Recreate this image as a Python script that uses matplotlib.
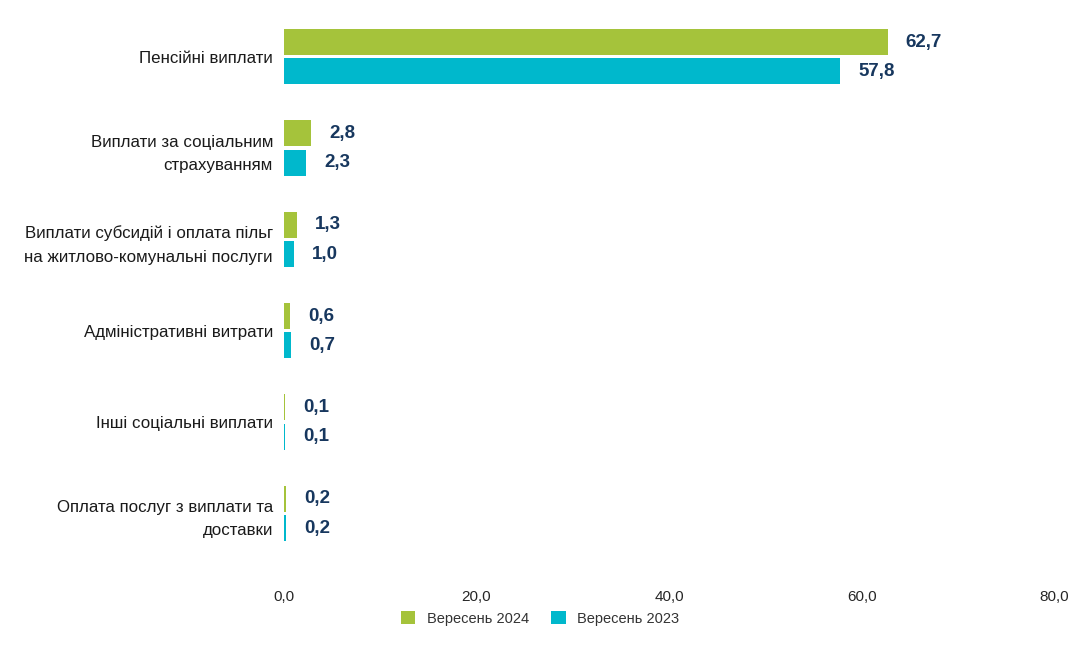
import matplotlib.pyplot as plt
import numpy as np

plt.rcParams['font.family'] = ['Liberation Sans', 'DejaVu Sans']

# дані
categories = ['Пенсійні виплати',
              'Виплати за соціальним\nстрахуванням',
              'Виплати субсидій і оплата пільг\nна житлово-комунальні послуги',
              'Адміністративні витрати',
              'Інші соціальні виплати',
              'Оплата послуг з виплати та\nдоставки']
sep_2024 = [62.7, 2.8, 1.3, 0.6, 0.1, 0.2]
sep_2023 = [57.8, 2.3, 1.0, 0.7, 0.1, 0.2]
ticks = [0, 20, 40, 60, 80]

green = '#A5C33B'
cyan = '#00B8CC'
navy = '#17375E'

fig = plt.figure(figsize=(10.8, 6.68), dpi=100)
ax = fig.add_axes([0.263, 0.163, 0.713, 0.8205])

y = np.arange(len(categories))
h = 0.285
off = 0.16
b1 = ax.barh(y - off, sep_2024, height=h, color=green, label='Вересень 2024')
b2 = ax.barh(y + off, sep_2023, height=h, color=cyan, label='Вересень 2023')

for bars, vals in ((b1, sep_2024), (b2, sep_2023)):
    for bar, v in zip(bars, vals):
        ax.annotate(f'{v:.1f}'.replace('.', ','),
                    (bar.get_width(), bar.get_y() + bar.get_height() / 2),
                    xytext=(18, 0), textcoords='offset pixels',
                    va='center', ha='left', fontsize=13.5, fontweight='bold', color=navy)

ax.set_xlim(0, 80)
ax.set_ylim(len(categories) - 0.5, -0.5)
ax.set_xticks(ticks)
ax.set_xticklabels([f'{t:.1f}'.replace('.', ',') for t in ticks], fontsize=11, color='#262626')
ax.set_yticks(y)
ax.set_yticklabels(categories, fontsize=12.2, color='#1a1a1a', ha='right',
                   multialignment='right', linespacing=1.7)
ax.tick_params(axis='both', length=0)
ax.tick_params(axis='x', pad=22)
ax.tick_params(axis='y', pad=8)
for s in ax.spines.values():
    s.set_visible(False)

fig.legend(loc='center', bbox_to_anchor=(0.5, 0.074), ncol=2, frameon=False,
           fontsize=10.5, handlelength=1.0, handleheight=1.0, columnspacing=1.5,
           handletextpad=0.8, labelcolor='#333333')

fig.savefig('out.png', dpi=100, facecolor='white')
